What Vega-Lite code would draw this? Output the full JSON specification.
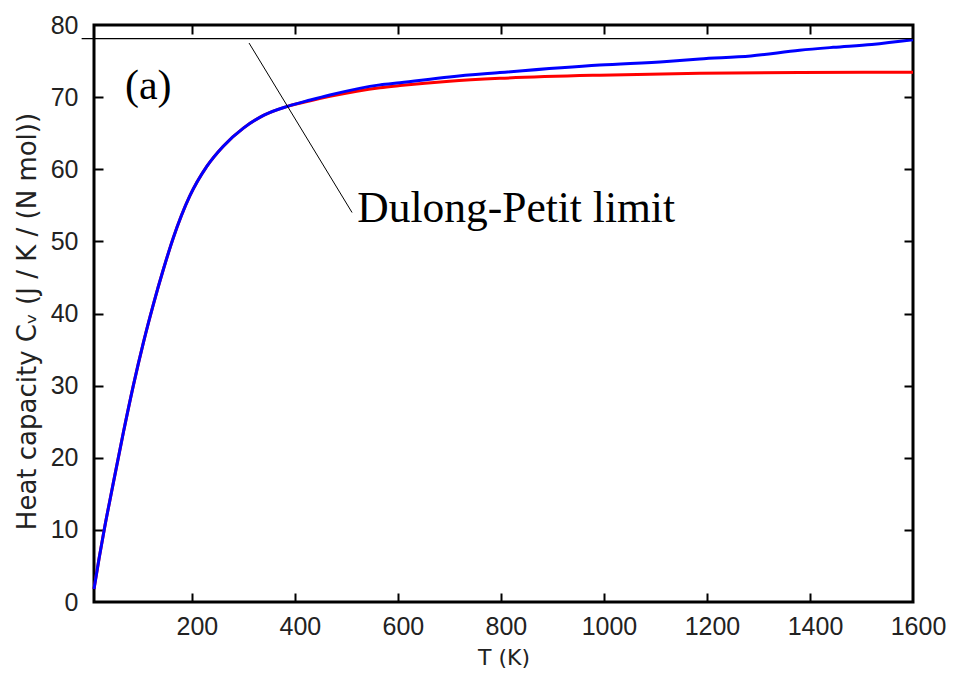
{
  "$schema": "https://vega.github.io/schema/vega-lite/v6.json",
  "width": 819,
  "height": 577,
  "autosize": {"type": "none"},
  "padding": {"left": 94, "top": 25, "right": 42, "bottom": 84},
  "background": "white",
  "config": {
    "view": {"stroke": "black", "strokeWidth": 3},
    "axis": {"grid": false, "domain": false, "labelFont": "Liberation Sans", "titleFont": "DejaVu Sans", "labelColor": "#222", "titleColor": "#222", "titleFontWeight": "normal", "tickColor": "black", "tickWidth": 2}
  },
  "datasets": {
    "curves": [
      {"T": 10, "Cv": 1.8, "model": "harmonic"},
      {"T": 20, "Cv": 6.1, "model": "harmonic"},
      {"T": 30, "Cv": 10.1, "model": "harmonic"},
      {"T": 45, "Cv": 15.6, "model": "harmonic"},
      {"T": 67, "Cv": 23.5, "model": "harmonic"},
      {"T": 86, "Cv": 29.9, "model": "harmonic"},
      {"T": 106, "Cv": 36.0, "model": "harmonic"},
      {"T": 125, "Cv": 41.2, "model": "harmonic"},
      {"T": 145, "Cv": 46.2, "model": "harmonic"},
      {"T": 164, "Cv": 50.5, "model": "harmonic"},
      {"T": 196, "Cv": 56.3, "model": "harmonic"},
      {"T": 229, "Cv": 60.4, "model": "harmonic"},
      {"T": 261, "Cv": 63.2, "model": "harmonic"},
      {"T": 300, "Cv": 65.7, "model": "harmonic"},
      {"T": 340, "Cv": 67.5, "model": "harmonic"},
      {"T": 387, "Cv": 68.75, "model": "harmonic"},
      {"T": 430, "Cv": 69.5, "model": "harmonic"},
      {"T": 468, "Cv": 70.1, "model": "harmonic"},
      {"T": 565, "Cv": 71.3, "model": "harmonic"},
      {"T": 604, "Cv": 71.6, "model": "harmonic"},
      {"T": 700, "Cv": 72.2, "model": "harmonic"},
      {"T": 798, "Cv": 72.6, "model": "harmonic"},
      {"T": 992, "Cv": 73.05, "model": "harmonic"},
      {"T": 1186, "Cv": 73.3, "model": "harmonic"},
      {"T": 1380, "Cv": 73.4, "model": "harmonic"},
      {"T": 1600, "Cv": 73.45, "model": "harmonic"},
      {"T": 10, "Cv": 1.8, "model": "anharmonic"},
      {"T": 20, "Cv": 6.1, "model": "anharmonic"},
      {"T": 30, "Cv": 10.1, "model": "anharmonic"},
      {"T": 45, "Cv": 15.6, "model": "anharmonic"},
      {"T": 67, "Cv": 23.5, "model": "anharmonic"},
      {"T": 86, "Cv": 29.9, "model": "anharmonic"},
      {"T": 106, "Cv": 36.0, "model": "anharmonic"},
      {"T": 125, "Cv": 41.2, "model": "anharmonic"},
      {"T": 145, "Cv": 46.2, "model": "anharmonic"},
      {"T": 164, "Cv": 50.5, "model": "anharmonic"},
      {"T": 196, "Cv": 56.3, "model": "anharmonic"},
      {"T": 229, "Cv": 60.4, "model": "anharmonic"},
      {"T": 261, "Cv": 63.2, "model": "anharmonic"},
      {"T": 300, "Cv": 65.7, "model": "anharmonic"},
      {"T": 340, "Cv": 67.5, "model": "anharmonic"},
      {"T": 387, "Cv": 68.75, "model": "anharmonic"},
      {"T": 430, "Cv": 69.6, "model": "anharmonic"},
      {"T": 468, "Cv": 70.3, "model": "anharmonic"},
      {"T": 565, "Cv": 71.7, "model": "anharmonic"},
      {"T": 604, "Cv": 72.0, "model": "anharmonic"},
      {"T": 700, "Cv": 72.8, "model": "anharmonic"},
      {"T": 798, "Cv": 73.4, "model": "anharmonic"},
      {"T": 992, "Cv": 74.45, "model": "anharmonic"},
      {"T": 1122, "Cv": 74.95, "model": "anharmonic"},
      {"T": 1186, "Cv": 75.3, "model": "anharmonic"},
      {"T": 1285, "Cv": 75.7, "model": "anharmonic"},
      {"T": 1380, "Cv": 76.5, "model": "anharmonic"},
      {"T": 1445, "Cv": 76.9, "model": "anharmonic"},
      {"T": 1520, "Cv": 77.3, "model": "anharmonic"},
      {"T": 1600, "Cv": 77.95, "model": "anharmonic"}
    ]
  },
  "resolve": {"axis": {"x": "independent", "y": "independent"}},
  "layer": [
    {
      "data": {"name": "curves"},
      "transform": [{"filter": "datum.model == 'harmonic'"}],
      "mark": {"type": "line", "color": "#ff0000", "strokeWidth": 3, "interpolate": "monotone"},
      "encoding": {
        "x": {"field": "T", "type": "quantitative",
          "scale": {"domain": [10, 1600], "nice": false, "zero": false},
          "axis": {"orient": "bottom", "values": [200, 400, 600, 800, 1000, 1200, 1400, 1600], "format": "d", "ticks": false, "tickSize": 0, "labelPadding": 12, "labelFontSize": 25, "labelOffset": 5, "labelFlush": false, "labelOverlap": false, "title": "T (K)", "titleFontSize": 22, "titlePadding": 8}},
        "y": {"field": "Cv", "type": "quantitative",
          "scale": {"domain": [0, 80], "nice": false},
          "axis": {"orient": "left", "values": [0, 10, 20, 30, 40, 50, 60, 70, 80], "format": "d", "ticks": false, "tickSize": 0, "labelPadding": 16, "labelFontSize": 25, "labelFlush": false, "labelOverlap": false, "title": "Heat capacity Cᵥ (J / K / (N mol))", "titleFontSize": 26, "titleX": -59, "titleY": 296, "titleAngle": -90, "titleAlign": "center", "titleBaseline": "alphabetic"}}
      }
    },
    {
      "data": {"name": "curves"},
      "transform": [{"filter": "datum.model == 'anharmonic'"}],
      "mark": {"type": "line", "color": "#0000ff", "strokeWidth": 3, "interpolate": "monotone"},
      "encoding": {
        "x": {"field": "T", "type": "quantitative",
          "axis": {"orient": "bottom", "values": [200, 400, 600, 800, 1000, 1200, 1400], "labels": false, "tickSize": -9, "title": null}},
        "y": {"field": "Cv", "type": "quantitative",
          "axis": {"orient": "left", "values": [10, 20, 30, 40, 50, 60, 70], "labels": false, "tickSize": -9, "title": null}}
      }
    },
    {
      "data": {"values": [{"T": -14, "T2": 1600, "Cv": 78.1}]},
      "mark": {"type": "rule", "color": "black", "strokeWidth": 1.2},
      "encoding": {
        "x": {"field": "T", "type": "quantitative",
          "axis": {"orient": "top", "values": [200, 400, 600, 800, 1000, 1200, 1400], "labels": false, "tickSize": -9, "title": null}},
        "x2": {"field": "T2"},
        "y": {"field": "Cv", "type": "quantitative",
          "axis": {"orient": "right", "values": [10, 20, 30, 40, 50, 60, 70], "labels": false, "tickSize": -9, "title": null}}
      }
    },
    {
      "data": {"values": [{"T": 311, "Cv": 77.5, "T2": 511, "Cv2": 54.0}]},
      "mark": {"type": "rule", "color": "black", "strokeWidth": 1},
      "encoding": {
        "x": {"field": "T", "type": "quantitative", "axis": null},
        "x2": {"field": "T2"},
        "y": {"field": "Cv", "type": "quantitative", "axis": null},
        "y2": {"field": "Cv2"}
      }
    },
    {
      "data": {"values": [
        {"T": 70, "Cv": 69.7, "label": "(a)", "size": 42},
        {"T": 521, "Cv": 52.7, "label": "Dulong-Petit limit", "size": 43.5}
      ]},
      "mark": {"type": "text", "align": "left", "baseline": "alphabetic", "font": "Liberation Serif", "color": "black"},
      "encoding": {
        "x": {"field": "T", "type": "quantitative", "axis": null},
        "y": {"field": "Cv", "type": "quantitative", "axis": null},
        "text": {"field": "label"},
        "size": {"field": "size", "type": "quantitative", "scale": null}
      }
    }
  ]
}
